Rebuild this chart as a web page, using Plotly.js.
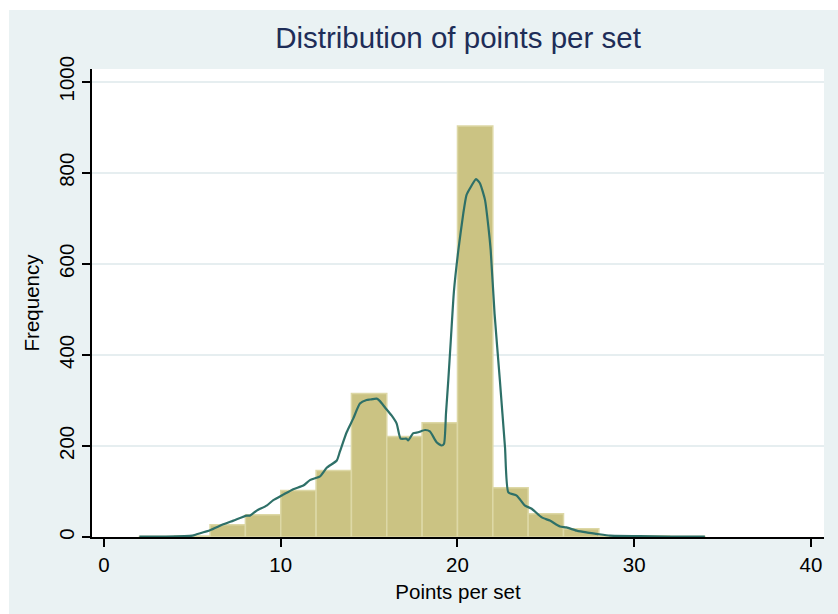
<!DOCTYPE html>
<html>
<head>
<meta charset="utf-8">
<script src="https://cdn.plot.ly/plotly-3.0.1.min.js"></script>
<style>
html,body{margin:0;padding:0;background:#ffffff;width:838px;height:614px;overflow:hidden;}
#chart{position:absolute;left:9px;top:10px;width:829px;height:604px;}
</style>
</head>
<body>
<div id="chart"></div>
<script>
// Histogram bins (start of each bin, width 2) and frequencies
const binStarts = [2,4,6,8,10,12,14,16,18,20,22,24,26,28,30,32];
const binWidth = 2;
const frequencies = [1,2,27,49,102,146,315,221,251,903,108,51,18,3,2,1];

// Kernel density curve scaled to frequency
const densityX = [2.0,3.5,5.0,5.24,6.0,6.75,7.32,8.07,8.26,8.64,9.2,9.58,10.14,10.71,11.28,11.65,12.22,12.6,13.17,13.35,13.73,14.1,14.48,14.86,15.05,15.43,15.6,15.89,16.27,16.56,16.78,17.12,17.21,17.5,17.78,18.16,18.44,18.82,19.1,19.24,19.35,19.48,19.62,19.8,20.05,20.33,20.51,20.71,21.05,21.27,21.56,21.75,21.88,22.1,22.4,22.69,22.88,23.35,23.82,24.2,24.77,25.23,25.8,26.17,26.74,27.3,27.87,28.63,30.3,32.0,34.0];
const densityY = [1,1,3,6,15,28,36,47,47,58,69,81,93,105,113,125,133,152,168,188,230,260,293,301,302,304,299,285,267,249,216,216,212,228,230,235,232,208,201,205,271,344,430,540,630,711,751,766,786,777,740,681,630,490,344,197,98,91,69,62,43,36,23,21,14,10,7,3,2,1,1];

const xTicks = [0,10,20,30,40];
const yTicks = [0,200,400,600,800,1000];

const binCenters = binStarts.map(s => s + binWidth/2);

const traces = [
  {
    type: 'bar',
    x: binCenters,
    y: frequencies,
    width: binWidth,
    marker: {color: '#CBC383', line: {color: '#DDD8A6', width: 1.5}},
    hoverinfo: 'x+y'
  },
  {
    type: 'scatter',
    mode: 'lines',
    x: densityX,
    y: densityY,
    line: {color: '#2E7068', width: 2.2, shape: 'spline', smoothing: 0.5},
    hoverinfo: 'skip'
  }
];

const fontFam = '"Liberation Sans", Arial, Helvetica, sans-serif';

const layout = {
  width: 829,
  height: 604,
  paper_bgcolor: '#EAF2F3',
  plot_bgcolor: '#FFFFFF',
  showlegend: false,
  bargap: 0,
  margin: {l: 83, r: 14, t: 59, b: 77},
  font: {family: fontFam, color: '#000000', size: 20},
  title: {
    text: 'Distribution of points per set',
    font: {family: fontFam, size: 29.5, color: '#1E2D58'},
    x: 0.5, xref: 'paper', xanchor: 'center',
    y: 1 - 28/604, yref: 'container', yanchor: 'middle'
  },
  xaxis: {
    range: [-0.68, 40.74],
    tickvals: xTicks,
    ticktext: xTicks.map(String),
    showgrid: false,
    zeroline: false,
    showline: true, linecolor: '#000000', linewidth: 2,
    ticks: 'outside', ticklen: 8, tickwidth: 2, tickcolor: '#000000',
    tickfont: {family: fontFam, size: 20.5, color: '#000000'},
    title: {text: 'Points per set', font: {family: fontFam, size: 20.5, color: '#000000'}, standoff: 10}
  },
  yaxis: {
    range: [0, 1028],
    tickvals: yTicks,
    ticktext: yTicks.map(String),
    tickangle: -90,
    showgrid: true, gridcolor: '#E6EEF0', gridwidth: 2,
    zeroline: false,
    showline: true, linecolor: '#000000', linewidth: 2,
    ticks: 'outside', ticklen: 8, tickwidth: 2, tickcolor: '#000000',
    tickfont: {family: fontFam, size: 20.5, color: '#000000'},
    title: {text: 'Frequency', font: {family: fontFam, size: 20.5, color: '#000000'}, standoff: 10}
  }
};

Plotly.newPlot('chart', traces, layout, {displayModeBar: false, staticPlot: true});
</script>
</body>
</html>
